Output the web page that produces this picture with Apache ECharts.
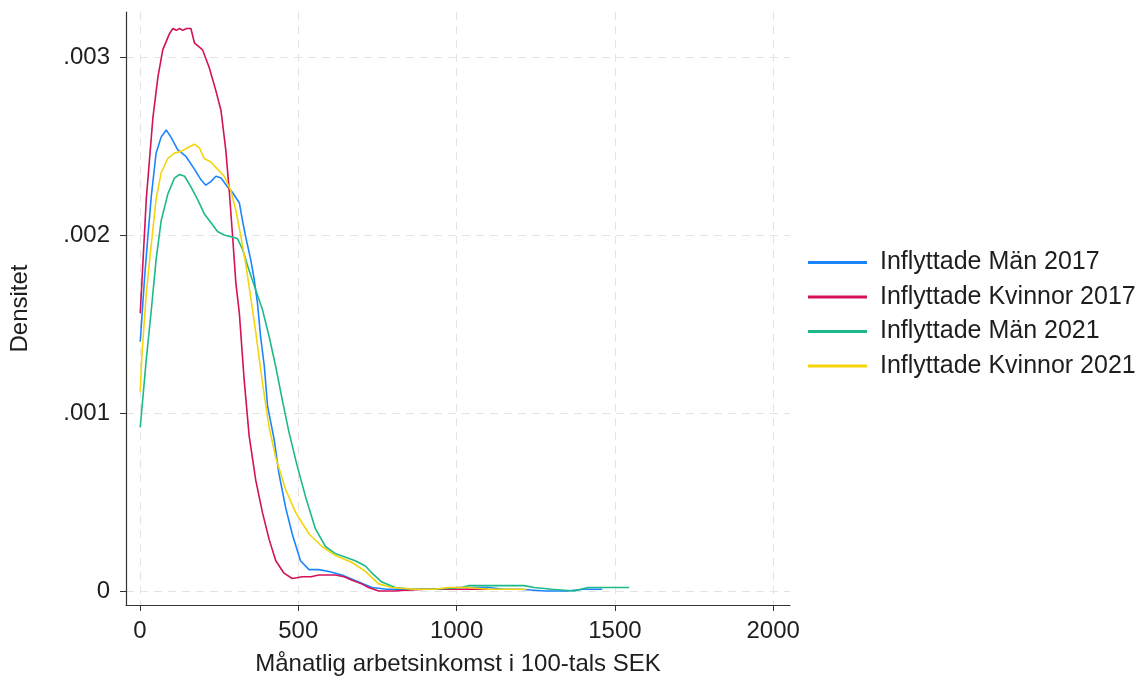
<!DOCTYPE html>
<html><head><meta charset="utf-8">
<script src="https://cdn.jsdelivr.net/npm/echarts@6/dist/echarts.min.js"></script>
<style>html,body{margin:0;padding:0;background:#fff}#c{width:1146px;height:682px}</style>
</head><body><div id="c"></div>
<script>
const seriesNames = ['Inflyttade Män 2017', 'Inflyttade Kvinnor 2017', 'Inflyttade Män 2021', 'Inflyttade Kvinnor 2021'];
const seriesColors = ['#1a85ff', '#d41159', '#1db98a', '#f5d40a'];
const xTicks = [0, 500, 1000, 1500, 2000];
const xTickLabels = ['0', '500', '1000', '1500', '2000'];
const yTicks = [0, 0.001, 0.002, 0.003];
const yTickLabels = ['0', '.001', '.002', '.003'];
const xTitle = 'Månatlig arbetsinkomst i 100-tals SEK';
const yTitle = 'Densitet';

const man2017 = [
  [1,.00140],[15,.00177],[25,.00199],[36,.00222],[51,.00246],[67,.00255],[83,.00259],[98,.00255],[119,.00248],
  [146,.00244],[172,.00237],[193,.00231],[208,.00228],[224,.00230],[240,.00233],[256,.00232],[277,.00227],
  [292,.00224],[314,.00218],[324,.00208],[334,.00199],[350,.00186],[361,.00175],[371,.00162],[381,.00143],
  [393,.00126],[403,.00104],[424,.00085],[439,.00066],[460,.00047],[481,.00032],[507,.00017],[534,.00012],
  [565,.00012],[597,.00011],[638,.00009],[691,.00005],[733,.00002],[780,.00001],[850,.00001],[950,.00001],
  [1000,.00002],[1040,.00002],[1100,.00002],[1150,.00001],[1200,.00001],[1280,.00000],[1350,.00000],
  [1400,.00001],[1450,.00001],[1460,.00001]
];
const kvinnor2017 = [
  [1,.00156],[20,.00220],[41,.00266],[57,.00289],[72,.00304],[93,.00313],[104,.00316],[115,.00315],[125,.00316],
  [135,.00315],[148,.00316],[161,.00316],[172,.00308],[185,.00306],[198,.00304],[219,.00294],[240,.00281],
  [256,.00270],[271,.00248],[282,.00225],[292,.00201],[303,.00173],[314,.00156],[329,.00119],[345,.00087],
  [366,.00062],[387,.00044],[408,.00029],[429,.00017],[455,.00010],[481,.00007],[513,.00008],[540,.00008],
  [565,.00009],[590,.00009],[617,.00009],[645,.00008],[670,.00006],[700,.00004],[722,.00002],[754,.00000],
  [800,.00000],[900,.00001],[1000,.00001],[1100,.00001]
];
const man2021 = [
  [1,.00092],[20,.00130],[36,.00158],[51,.00186],[67,.00208],[88,.00223],[109,.00232],[125,.00234],[141,.00233],
  [161,.00227],[182,.00220],[203,.00212],[224,.00207],[245,.00202],[266,.00200],[287,.00199],[308,.00198],
  [324,.00192],[345,.00180],[366,.00169],[387,.00158],[408,.00143],[429,.00126],[450,.00107],[471,.00089],
  [497,.00070],[523,.00053],[554,.00035],[586,.00025],[617,.00021],[649,.00019],[680,.00017],[712,.00014],
  [733,.00010],[764,.00005],[806,.00002],[858,.00001],[932,.00001],[1016,.00002],[1037,.00003],[1100,.00003],
  [1150,.00003],[1214,.00003],[1245,.00002],[1300,.00001],[1371,.00000],[1415,.00002],[1478,.00002],[1545,.00002]
];
const kvinnor2021 = [
  [1,.00112],[6,.00132],[20,.00167],[36,.00195],[51,.00220],[67,.00235],[88,.00243],[109,.00246],[130,.00247],
  [151,.00249],[172,.00251],[188,.00249],[203,.00243],[224,.00241],[245,.00237],[266,.00233],[287,.00225],
  [303,.00214],[319,.00199],[334,.00184],[350,.00165],[366,.00145],[387,.00117],[408,.00092],[429,.00075],
  [460,.00057],[492,.00044],[534,.00032],[575,.00025],[617,.00020],[670,.00016],[712,.00011],[754,.00004],
  [796,.00002],[869,.00001],[932,.00001],[974,.00002],[1037,.00002],[1100,.00001],[1142,.00001],[1220,.00001]
];

const seriesData = [man2017, kvinnor2017, man2021, kvinnor2021];
const FONT = 'Liberation Sans, Arial, Helvetica, sans-serif';
const TXT = '#1e1e1e';

const chart = echarts.init(document.getElementById('c'), null, {renderer: 'canvas'});
chart.setOption({
  animation: false,
  backgroundColor: '#fff',
  textStyle: {fontFamily: FONT},
  grid: {left: 123, right: 356, top: 12, bottom: 77, containLabel: false},
  legend: {
    orient: 'vertical', left: 803, top: 245,
    itemWidth: 59, itemHeight: 3, itemGap: 9.5,
    icon: 'rect',
    data: seriesNames,
    textStyle: {fontSize: 25, color: TXT, fontFamily: FONT, padding: [0, 0, 0, 8]}
  },
  xAxis: {
    type: 'value', min: -44, max: 2053,
    name: xTitle, nameLocation: 'middle', nameGap: 47,
    nameTextStyle: {fontSize: 24, color: TXT, fontFamily: FONT},
    axisLine: {show: true, onZero: false, lineStyle: {color: '#333', width: 1.2}},
    axisTick: {show: true, length: 6, customValues: xTicks, lineStyle: {color: '#333'}},
    axisLabel: {customValues: xTicks, margin: 14, fontSize: 24, color: TXT, fontFamily: FONT,
      formatter: v => xTickLabels[Math.round(v / 500)]},
    splitLine: {show: true, lineStyle: {color: '#e4e4e4', type: [8, 6], width: 1}}
  },
  yAxis: {
    type: 'value', min: -0.0000787, max: 0.003253,
    name: yTitle, nameLocation: 'middle', nameGap: 94, nameRotate: 90,
    nameTextStyle: {fontSize: 24, color: TXT, fontFamily: FONT},
    axisLine: {show: true, onZero: false, lineStyle: {color: '#333', width: 1.2}},
    axisTick: {show: true, length: 6, customValues: yTicks, lineStyle: {color: '#333'}},
    axisLabel: {customValues: yTicks, margin: 16, fontSize: 24, color: TXT, fontFamily: FONT,
      formatter: v => yTickLabels[Math.round(v * 1000)]},
    splitLine: {show: true, lineStyle: {color: '#e4e4e4', type: [8, 6], width: 1}}
  },
  series: seriesNames.map((n, i) => ({
    name: n, type: 'line', data: seriesData[i], showSymbol: false, symbol: 'none',
    smooth: false, color: seriesColors[i],
    lineStyle: {width: 1.6, color: seriesColors[i]}
  }))
});
</script></body></html>
